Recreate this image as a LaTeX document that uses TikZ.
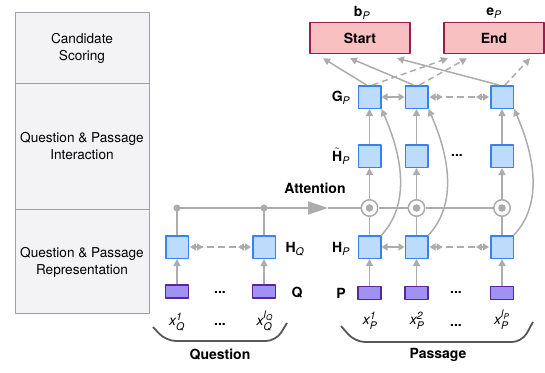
\documentclass[tikz,border=0pt]{standalone}
\usepackage{fontspec}
\setmainfont{TeX Gyre Heros}
\usepackage{amsmath}
\DeclareMathSizes{14}{14}{10.5}{8}
\usetikzlibrary{arrows.meta,positioning}
\definecolor{arrgray}{RGB}{172,172,172}
\definecolor{bracegray}{RGB}{88,88,88}
\definecolor{hfill}{RGB}{189,220,251}
\definecolor{hdraw}{RGB}{58,128,240}
\definecolor{xfill}{RGB}{160,145,245}
\definecolor{xdraw}{RGB}{90,40,150}
\definecolor{ofill}{RGB}{249,192,194}
\definecolor{odraw}{RGB}{150,30,80}
\definecolor{panelfill}{RGB}{243,243,245}
\newcommand{\vsub}[2]{{\bfseries #1}\textsubscript{\normalfont\itshape #2}}
\tikzset{
  gline/.style={draw=arrgray,line width=1.5pt},
  arr/.style={gline,-{Triangle[length=7pt,width=7pt]}},
  darr/.style={arr,dash pattern=on 6pt off 4pt},
  biarr/.style={gline,dash pattern=on 7pt off 4pt,arrows={Triangle[length=6pt,width=7pt,sep=1pt] Triangle[length=6pt,width=7pt,reversed,sep=1pt]}-{Triangle[length=6pt,width=7pt,reversed,sep=1pt] Triangle[length=6pt,width=7pt,sep=1pt]}},
  shortbi/.style={gline,arrows={Triangle[length=6pt,width=7pt]}-{Triangle[length=6pt,width=7pt]}},
  hbox/.style={draw=hdraw,fill=hfill,line width=1.5pt,minimum size=22.5pt,inner sep=0pt},
  xbox/.style={draw=xdraw,fill=xfill,line width=1.5pt,minimum width=23pt,minimum height=13pt,inner sep=0pt},
  obox/.style={draw=odraw,fill=ofill,line width=1.5pt,minimum width=100pt,minimum height=31pt,font=\fontsize{14}{16}\selectfont\bfseries},
  opnode/.style={circle,draw=arrgray,fill=white,line width=1.5pt,minimum size=16.5pt,inner sep=0pt,
    path picture={\fill[arrgray] (path picture bounding box.center) circle (3.8pt);}},
  panel/.style={draw=gray!75,fill=panelfill,line width=0.8pt},
  paneltext/.style={align=center,font=\fontsize{13.6}{17}\selectfont},
  lab/.style={inner sep=0pt},
  blab/.style={inner sep=0pt,font=\fontsize{14}{16}\selectfont\bfseries},
  brace/.style={draw=bracegray,line width=1.8pt,rounded corners=10pt}
}
\begin{document}
\begin{tikzpicture}[x=1pt,y=-1pt,line join=round,font=\fontsize{14}{16}\selectfont]
\useasboundingbox (0,0) rectangle (545,372);
% layers on the left
\draw[panel] (15,12) rectangle (149,83);
\draw[panel] (15,83) rectangle (149,209);
\draw[panel] (15,209) rectangle (149,313);
\node[paneltext] (scoring) at (82,48.5) {Candidate\\Scoring};
\node[paneltext] (interact) at (82,146.5) {Question \& Passage\\Interaction};
\node[paneltext] (repr) at (82,262.5) {Question \& Passage\\Representation};
% question
\node[xbox] (xq1) at (177,291.5) {};
\node[xbox] (xq2) at (264,291.5) {};
\node[hbox] (hq1) at (177,247) {};
\node[hbox] (hq2) at (264,247) {};
\coordinate (qa) at (177,208);
\coordinate (qb) at (264,208);
\coordinate (att) at (328,208);
% passage
\foreach \i/\x in {1/369.5,2/416.5,3/502}{
  \node[xbox] (xp\i) at (\x,293) {};
  \node[hbox] (hp\i) at (\x,247) {};
  \node[opnode] (c\i) at (\x,208) {};
  \node[hbox] (ht\i) at (\x,156) {};
  \node[hbox] (gp\i) at (\x,97) {};
}
\node[obox] (start) at (360,38) {Start};
\node[obox] (end) at (494,38) {End};
% connections
\draw[arr] (xq1) -- (hq1);
\draw[arr] (xq2) -- (hq2);
\draw[gline] (hq1) -- (qa);
\draw[gline] (hq2) -- (qb);
\draw[biarr] (hq1) -- (hq2);
\draw[gline,-{Triangle[length=20pt,width=13pt]}] (qa) -- (att);
\draw[gline] (att) -- (c1) -- (c2) -- (c3);
\fill[arrgray] (qa) circle (3.5pt) (qb) circle (3.5pt);
\foreach \i in {1,2,3}{
  \draw[arr] (xp\i) -- (hp\i);
  \draw[gline] (hp\i) -- (c\i);
  \draw[arr] (c\i) -- (ht\i);
  \draw[arr] (ht\i) -- (gp\i);
  \draw[arr] (hp\i.north east) .. controls +(28,-30) and +(22,50) .. (gp\i.south east);
}
\draw[shortbi] (hp1) -- (hp2);
\draw[biarr] (hp2) -- (hp3);
\draw[shortbi] (gp1) -- (gp2);
\draw[biarr] (gp2) -- (gp3);
\draw[arr] ([xshift=-3pt]gp1.north) -- ([xshift=-37pt,yshift=-4pt]start.south);
\draw[arr] ([xshift=-3pt]gp2.north) -- ([xshift=-10pt,yshift=-4pt]start.south);
\draw[arr] ([xshift=-3pt]gp3.north) -- ([xshift=37pt,yshift=-4pt]start.south);
\draw[darr] ([xshift=3pt]gp1.north) -- ([xshift=-46pt,yshift=-4pt]end.south);
\draw[darr] ([xshift=3pt]gp2.north) -- ([xshift=-27pt,yshift=-4pt]end.south);
\draw[darr] ([xshift=3pt]gp3.north) -- ([xshift=36pt,yshift=-4pt]end.south);
% labels
\node[lab] (bp) at (362,13) {\vsub{b}{P}};
\node[lab] (ep) at (494,13) {\vsub{e}{P}};
\node[lab] (gplab) at (341,98) {\vsub{G}{P}};
\node[lab] (htlab) at (341,156) {\vsub{$\tilde{\textbf{H}}$}{P}};
\node[lab] (hplab) at (341,249) {\vsub{H}{P}};
\node[lab] (hqlab) at (295,249) {\vsub{H}{Q}};
\node[blab] (attlab) at (315,188) {Attention};
\node[blab] (qlab) at (297,293) {Q};
\node[blab] (plab) at (341,293) {P};
\node[lab] (dq1) at (220,292) {\textbf{...}};
\node[lab] (dq2) at (220,324) {\textbf{...}};
\node[lab] (dp1) at (456,292) {\textbf{...}};
\node[lab] (dp2) at (456,325) {\textbf{...}};
\node[lab] (dp3) at (457,155) {\textbf{...}};
\node[lab] (xq1lab) at (177,322) {$\textit{x}^{\textit{1}}_{\textit{Q}}$};
\node[lab] (xq2lab) at (265,321) {$\textit{x}^{\textit{l}_{\textit{Q}}}_{\textit{Q}}$};
\node[lab] (xp1lab) at (370,321) {$\textit{x}^{\textit{1}}_{\textit{P}}$};
\node[lab] (xp2lab) at (417,321) {$\textit{x}^{\textit{2}}_{\textit{P}}$};
\node[lab] (xp3lab) at (502,320) {$\textit{x}^{\textit{l}_{\textit{P}}}_{\textit{P}}$};
% braces
\draw[brace] (153,327) -- (166,341) -- (276,341) -- (287,323);
\draw[brace] (341,326) -- (355,342) -- (522,342) -- (533,322);
\node[blab] (question) at (220,355) {Question};
\node[blab] (passage) at (438,355) {Passage};
\end{tikzpicture}
\end{document}
